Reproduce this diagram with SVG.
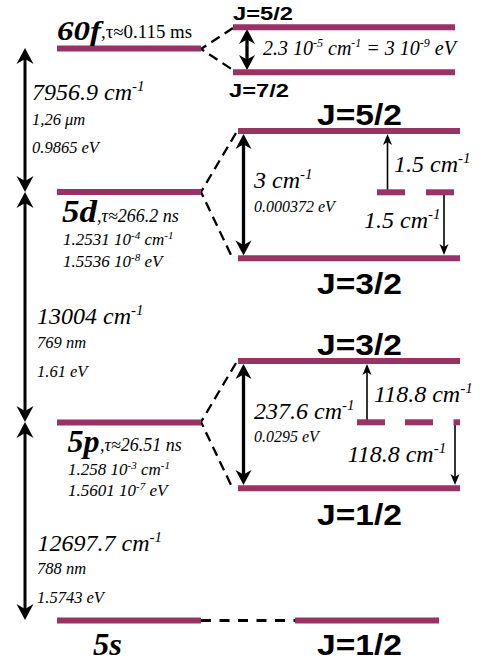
<svg xmlns="http://www.w3.org/2000/svg" width="484" height="664" viewBox="0 0 484 664">
<defs>
<style>
.bar{stroke:#993366;stroke-width:6;fill:none}
.dash{stroke:#000;stroke-width:2.3;stroke-dasharray:10 6;fill:none}
.dash5s{stroke:#000;stroke-width:3.2;stroke-dasharray:10 8.5;fill:none}
.big{stroke:#000;stroke-width:3;fill:none;marker-start:url(#hb);marker-end:url(#hb)}
.mid{stroke:#000;stroke-width:3.3;fill:none;marker-start:url(#hm);marker-end:url(#hm)}
.thin{stroke:#000;stroke-width:1.6;fill:none;marker-end:url(#ht)}
text{font-family:"Liberation Serif","Times New Roman",serif;fill:#000}
.it{font-style:italic}
.st{font-style:italic;font-weight:bold}
.J{font-family:"Liberation Sans",Arial,sans-serif;font-weight:bold}
</style>
<marker id="hb" markerUnits="userSpaceOnUse" viewBox="-12 -9 18 18" refX="0" refY="0" markerWidth="18" markerHeight="18" orient="auto-start-reverse">
<path d="M5,0 L-11,-8.5 L-6,0 L-11,8.5 Z" fill="#000"/>
</marker>
<marker id="hm" markerUnits="userSpaceOnUse" viewBox="-12 -9 18 18" refX="0" refY="0" markerWidth="18" markerHeight="18" orient="auto-start-reverse">
<path d="M5,0 L-10,-8 L-5.5,0 L-10,8 Z" fill="#000"/>
</marker>
<marker id="ht" markerUnits="userSpaceOnUse" viewBox="-9 -6 13 12" refX="0" refY="0" markerWidth="13" markerHeight="12" orient="auto">
<path d="M3,0 L-8,-4.5 L-5,0 L-8,4.5 Z" fill="#000"/>
</marker>
</defs>

<g id="connectors">
<line class="big" x1="25" y1="53" x2="25" y2="187"/>
<line class="big" x1="25" y1="197" x2="25" y2="417"/>
<line class="big" x1="25" y1="427" x2="25" y2="615"/>
<polyline class="dash" points="233,28 201,49 233,70"/>
<polyline class="dash" points="236,133 201,192 232,257"/>
<polyline class="dash" points="236,363 201,422 232,487"/>
<line class="dash5s" x1="201" y1="620.5" x2="295" y2="620.5"/>
<line class="mid" x1="247" y1="34" x2="247" y2="65"/>
<line class="mid" x1="243.5" y1="139" x2="243.5" y2="250.5"/>
<line class="mid" x1="243.5" y1="369" x2="243.5" y2="480"/>
<line class="thin" x1="387.5" y1="192" x2="387.5" y2="137"/>
<line class="thin" x1="444" y1="193" x2="444" y2="252"/>
<line class="thin" x1="367" y1="422" x2="367" y2="367"/>
<line class="thin" x1="455" y1="423" x2="455" y2="482"/>
</g>

<g id="level-60f">
<line class="bar" x1="57" y1="48.5" x2="201" y2="48.5"/>
<text class="st" x="57" y="40" font-size="28" textLength="44" lengthAdjust="spacingAndGlyphs">60f</text>
<text x="101" y="37.5" font-size="18" textLength="91" lengthAdjust="spacingAndGlyphs">,τ≈0.115 ms</text>
</g>
<g id="level-60f-J52">
<line class="bar" x1="233" y1="27.3" x2="455" y2="27.3"/>
<text class="J" x="233" y="19.5" font-size="18" textLength="60" lengthAdjust="spacingAndGlyphs">J=5/2</text>
</g>
<g id="level-60f-J72">
<line class="bar" x1="233" y1="72.3" x2="455" y2="72.3"/>
<text class="J" x="229" y="97" font-size="18" textLength="60" lengthAdjust="spacingAndGlyphs">J=7/2</text>
</g>
<g id="label-60f-split">
<text class="it" x="263" y="55" font-size="20">2.3 10<tspan font-size="12" dy="-8">-5</tspan><tspan dy="8"> cm</tspan><tspan font-size="12" dy="-8">-1</tspan><tspan dy="8"> = 3 10</tspan><tspan font-size="12" dy="-8">-9</tspan><tspan dy="8"> eV</tspan></text>
</g>

<g id="label-60f-5d">
<text class="it" x="32" y="100" font-size="24">7956.9 cm<tspan font-size="15" dy="-9">-1</tspan></text>
<text class="it" x="32" y="125" font-size="16.5">1,26 μm</text>
<text class="it" x="32" y="153" font-size="16.5">0.9865 eV</text>
</g>

<g id="level-5d">
<line class="bar" x1="57" y1="192" x2="201" y2="192"/>
<text class="st" x="62" y="222" font-size="31" textLength="35" lengthAdjust="spacingAndGlyphs">5d</text>
<text class="it" x="97" y="221.5" font-size="18">,τ≈266.2 ns</text>
<text class="it" x="63" y="245" font-size="17">1.2531 10<tspan font-size="11" dy="-6">-4</tspan><tspan dy="6"> cm</tspan><tspan font-size="11" dy="-6">-1</tspan></text>
<text class="it" x="63" y="267" font-size="17">1.5536 10<tspan font-size="11" dy="-6">-8</tspan><tspan dy="6"> eV</tspan></text>
</g>
<g id="level-5d-J52">
<line class="bar" x1="238" y1="131" x2="460" y2="131"/>
<text class="J" x="317" y="125" font-size="30" textLength="85" lengthAdjust="spacingAndGlyphs">J=5/2</text>
</g>
<g id="level-5d-mid">
<line class="bar" x1="377" y1="192.3" x2="405" y2="192.3"/>
<line class="bar" x1="426" y1="192.3" x2="454" y2="192.3"/>
</g>
<g id="level-5d-J32">
<line class="bar" x1="238" y1="258.3" x2="460" y2="258.3"/>
<text class="J" x="317" y="294" font-size="30" textLength="85" lengthAdjust="spacingAndGlyphs">J=3/2</text>
</g>
<g id="label-5d-split">
<text class="it" x="254" y="188" font-size="24">3 cm<tspan font-size="15" dy="-9">-1</tspan></text>
<text class="it" x="254" y="211.5" font-size="16">0.000372 eV</text>
<text class="it" x="394" y="171.5" font-size="24">1.5 cm<tspan font-size="15" dy="-9">-1</tspan></text>
<text class="it" x="364" y="228" font-size="24">1.5 cm<tspan font-size="15" dy="-9">-1</tspan></text>
</g>

<g id="label-5d-5p">
<text class="it" x="37" y="324" font-size="24">13004 cm<tspan font-size="15" dy="-9">-1</tspan></text>
<text class="it" x="37" y="348" font-size="16.5">769 nm</text>
<text class="it" x="37" y="377" font-size="16.5">1.61 eV</text>
</g>

<g id="level-5p">
<line class="bar" x1="57" y1="422.5" x2="201" y2="422.5"/>
<text class="st" x="67.5" y="451.5" font-size="31" textLength="32" lengthAdjust="spacingAndGlyphs">5p</text>
<text class="it" x="100" y="451" font-size="18">,τ≈26.51 ns</text>
<text class="it" x="68" y="475" font-size="17">1.258 10<tspan font-size="11" dy="-6">-3</tspan><tspan dy="6"> cm</tspan><tspan font-size="11" dy="-6">-1</tspan></text>
<text class="it" x="68" y="496" font-size="17">1.5601 10<tspan font-size="11" dy="-6">-7</tspan><tspan dy="6"> eV</tspan></text>
</g>
<g id="level-5p-J32">
<line class="bar" x1="238" y1="361" x2="460" y2="361"/>
<text class="J" x="317" y="355" font-size="30" textLength="85" lengthAdjust="spacingAndGlyphs">J=3/2</text>
</g>
<g id="level-5p-mid">
<line class="bar" x1="357" y1="422.3" x2="385" y2="422.3"/>
<line class="bar" x1="405" y1="422.3" x2="433" y2="422.3"/>
<line class="bar" x1="453.5" y1="422.3" x2="460" y2="422.3"/>
</g>
<g id="level-5p-J12">
<line class="bar" x1="238" y1="488.3" x2="460" y2="488.3"/>
<text class="J" x="317" y="525" font-size="30" textLength="85" lengthAdjust="spacingAndGlyphs">J=1/2</text>
</g>
<g id="label-5p-split">
<text class="it" x="254" y="419" font-size="24">237.6 cm<tspan font-size="15" dy="-9">-1</tspan></text>
<text class="it" x="254" y="442" font-size="16">0.0295 eV</text>
<text class="it" x="374" y="402" font-size="24">118.8 cm<tspan font-size="15" dy="-9">-1</tspan></text>
<text class="it" x="347.5" y="462" font-size="24">118.8 cm<tspan font-size="15" dy="-9">-1</tspan></text>
</g>

<g id="label-5p-5s">
<text class="it" x="37.5" y="550.5" font-size="24">12697.7 cm<tspan font-size="15" dy="-9">-1</tspan></text>
<text class="it" x="37" y="574" font-size="16.5">788 nm</text>
<text class="it" x="37" y="603" font-size="16.5">1.5743 eV</text>
</g>

<g id="level-5s">
<line class="bar" x1="57" y1="620.6" x2="201" y2="620.6"/>
<text class="st" x="93" y="655" font-size="31" textLength="29" lengthAdjust="spacingAndGlyphs">5s</text>
</g>
<g id="level-5s-J12">
<line class="bar" x1="295" y1="620.6" x2="439" y2="620.6"/>
<text class="J" x="317" y="655" font-size="30" textLength="85" lengthAdjust="spacingAndGlyphs">J=1/2</text>
</g>
</svg>
